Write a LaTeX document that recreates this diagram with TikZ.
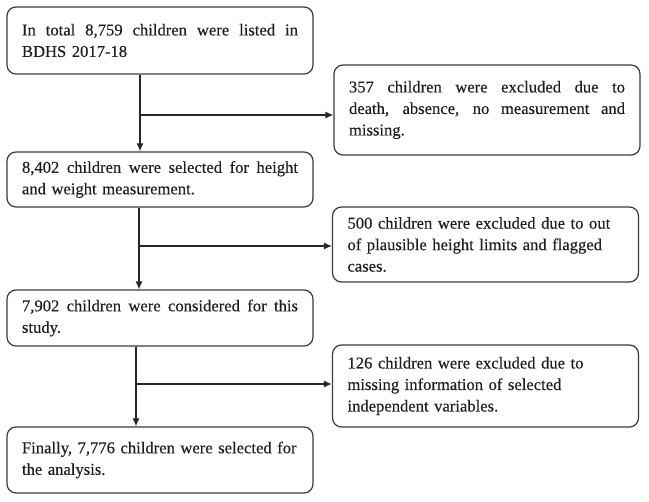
\documentclass[tikz,border=0pt]{standalone}
\usepackage{fontspec}
\setmainfont{Liberation Serif}
\newfontfamily\boxfont[FakeBold=0.3]{Liberation Serif}
\usetikzlibrary{arrows.meta}
\definecolor{boxgray}{HTML}{3A3A3A}
\definecolor{txt}{HTML}{1E1E1E}
\newcommand{\jl}[1]{\makebox[276pt][s]{\spaceskip=0.25em plus 1em\relax #1}}
\begin{document}
\begin{tikzpicture}[x=1pt,y=-1pt,
  box/.style={draw=boxgray, line width=1.2pt, rounded corners=9pt,
    text width=276pt, inner xsep=15pt, inner ysep=0pt, align=left,
    font=\boxfont\fontsize{16.6}{21.5}\selectfont, text=txt, anchor=center,
    minimum width=306pt},
  conn/.style={draw=black!85, line width=1.2pt},
  arr/.style={conn, -{Latex[length=8pt,width=7pt]}}]
\useasboundingbox (0,0) rectangle (649,502);
\node[box, minimum height=67pt] (b1) at (160,40.5)
  {\jl{In total 8,759 children were listed in}\\BDHS 2017-18};
\node[box, minimum height=90pt] (b2) at (487,110)
  {\jl{357 children were excluded due to}\\\jl{death, absence, no measurement and}\\missing.};
\node[box, minimum height=55pt] (b3) at (160,179.5)
  {\jl{8,402 children were selected for height}\\and weight measurement.};
\node[box, minimum height=75pt] (b4) at (485.5,244.5)
  {500 children were excluded due to out\\of plausible height limits and flagged\\cases.};
\node[box, minimum height=56pt] (b5) at (160,318)
  {\jl{7,902 children were considered for this}\\study.};
\node[box, minimum height=82pt] (b6) at (485.5,386)
  {126 children were excluded due to\\missing information of selected\\independent variables.};
\node[box, minimum height=66pt] (b7) at (160,460)
  {Finally, 7,776 children were selected for\\the analysis.};
\coordinate (j1) at (140,115);
\coordinate (j2) at (139,246);
\coordinate (j3) at (136,384);
\draw[arr] (b1.south -| j1) -- (b3.north -| j1);
\draw[arr] (j1) -- (b2.west |- j1);
\draw[arr] (b3.south -| j2) -- (b5.north -| j2);
\draw[arr] (j2) -- (b4.west |- j2);
\draw[arr] (b5.south -| j3) -- (b7.north -| j3);
\draw[arr] (j3) -- (b6.west |- j3);
\end{tikzpicture}
\end{document}
